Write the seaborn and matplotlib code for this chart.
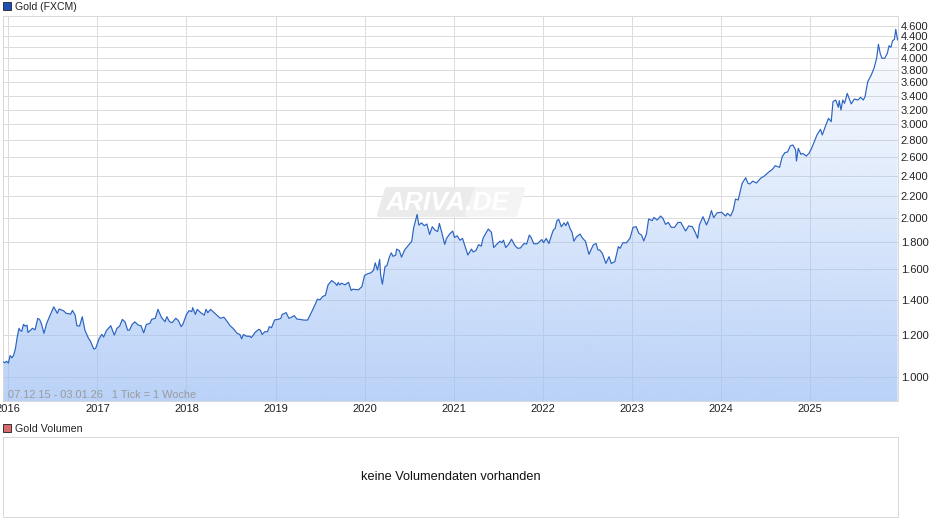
import numpy as np
import pandas as pd
import matplotlib
matplotlib.use("Agg")
import matplotlib.pyplot as plt
from matplotlib.patches import Polygon, Rectangle
import seaborn as sns

sns.set_theme(style="white")
plt.rcParams['font.family'] = ['Liberation Sans', 'DejaVu Sans']

# Weekly gold price, one pair of lists per stretch of the picture
years_2016 = [2015.94, 2015.96, 2015.98, 2016.00, 2016.02, 2016.04, 2016.06, 2016.08, 2016.10, 2016.12,
              2016.13, 2016.15, 2016.17, 2016.19, 2016.21, 2016.22, 2016.25, 2016.27, 2016.30, 2016.33,
              2016.35, 2016.37, 2016.40, 2016.43, 2016.47, 2016.51, 2016.55, 2016.57, 2016.62, 2016.65,
              2016.70, 2016.72, 2016.75, 2016.77, 2016.80, 2016.83, 2016.86, 2016.90, 2016.92, 2016.96,
              2016.98, 2017.02, 2017.05, 2017.07, 2017.10, 2017.15, 2017.19, 2017.22, 2017.25, 2017.28,
              2017.31, 2017.34, 2017.36, 2017.39, 2017.42, 2017.46, 2017.49, 2017.52, 2017.55]
price_2016 = [1069, 1064, 1071, 1062, 1098, 1087, 1100, 1133, 1191, 1236,
              1226, 1220, 1257, 1248, 1253, 1214, 1226, 1236, 1228, 1290,
              1285, 1263, 1209, 1263, 1309, 1357, 1319, 1344, 1334, 1319,
              1315, 1336, 1309, 1250, 1248, 1300, 1226, 1183, 1170, 1129,
              1133, 1183, 1204, 1190, 1223, 1250, 1200, 1236, 1248, 1285,
              1271, 1226, 1226, 1257, 1271, 1253, 1250, 1212, 1257]

years_2018 = [2017.59, 2017.61, 2017.65, 2017.68, 2017.72, 2017.76, 2017.78, 2017.81, 2017.84, 2017.88,
              2017.91, 2017.94, 2017.96, 2018.00, 2018.03, 2018.06, 2018.07, 2018.10, 2018.12, 2018.16,
              2018.20, 2018.22, 2018.24, 2018.27, 2018.32, 2018.36, 2018.38, 2018.42, 2018.45, 2018.49,
              2018.525, 2018.57, 2018.60, 2018.62, 2018.64, 2018.675, 2018.71, 2018.73, 2018.77, 2018.81,
              2018.83, 2018.85, 2018.88, 2018.91, 2018.93, 2018.955, 2018.99, 2019.03, 2019.06, 2019.075,
              2019.12, 2019.15, 2019.18, 2019.21, 2019.24, 2019.27, 2019.32, 2019.36, 2019.40]
price_2018 = [1263, 1285, 1291, 1342, 1295, 1272, 1300, 1272, 1267, 1291,
              1278, 1245, 1258, 1313, 1335, 1329, 1352, 1313, 1342, 1323,
              1309, 1342, 1323, 1342, 1319, 1300, 1291, 1297, 1278, 1250,
              1235, 1209, 1203, 1181, 1203, 1194, 1194, 1187, 1214, 1230,
              1226, 1203, 1218, 1218, 1245, 1239, 1282, 1285, 1291, 1313,
              1323, 1291, 1297, 1306, 1287, 1285, 1281, 1281, 1321]

years_2020 = [2019.45, 2019.47, 2019.50, 2019.53, 2019.56, 2019.59, 2019.63, 2019.67, 2019.69, 2019.704,
              2019.72, 2019.74, 2019.78, 2019.82, 2019.85, 2019.87, 2019.93, 2019.97, 2020.00, 2020.04,
              2020.07, 2020.10, 2020.12, 2020.145, 2020.17, 2020.18, 2020.20, 2020.23, 2020.25, 2020.28,
              2020.30, 2020.32, 2020.35, 2020.36, 2020.39, 2020.415, 2020.45, 2020.53, 2020.55, 2020.59,
              2020.61, 2020.64, 2020.67, 2020.70, 2020.73, 2020.76, 2020.79, 2020.82, 2020.84, 2020.87,
              2020.90, 2020.92, 2020.96]
price_2020 = [1377, 1403, 1399, 1420, 1426, 1493, 1521, 1504, 1489, 1508,
              1493, 1504, 1493, 1510, 1457, 1465, 1461, 1481, 1556, 1568,
              1573, 1590, 1643, 1592, 1668, 1561, 1497, 1617, 1622, 1688,
              1716, 1690, 1700, 1744, 1733, 1684, 1738, 1805, 1908, 2028,
              1936, 1955, 1931, 1945, 1859, 1922, 1895, 1882, 1950, 1867,
              1780, 1827, 1867]

years_2021 = [2020.99, 2021.01, 2021.04, 2021.07, 2021.10, 2021.13, 2021.16, 2021.20, 2021.22, 2021.25,
              2021.28, 2021.31, 2021.33, 2021.36, 2021.39, 2021.425, 2021.45, 2021.48, 2021.52, 2021.54,
              2021.56, 2021.585, 2021.62, 2021.65, 2021.69, 2021.72, 2021.75, 2021.79, 2021.82, 2021.85,
              2021.87, 2021.90, 2021.94, 2021.99, 2022.01, 2022.04, 2022.07, 2022.10, 2022.12, 2022.14,
              2022.16, 2022.18, 2022.21, 2022.24, 2022.26, 2022.28, 2022.31, 2022.33, 2022.35, 2022.38,
              2022.42, 2022.45, 2022.48, 2022.52, 2022.55, 2022.57, 2022.60, 2022.62, 2022.64]
price_2021 = [1886, 1835, 1848, 1813, 1827, 1761, 1700, 1744, 1723, 1733,
              1778, 1767, 1827, 1867, 1903, 1876, 1756, 1778, 1805, 1794,
              1813, 1756, 1783, 1821, 1770, 1750, 1753, 1787, 1783, 1854,
              1835, 1785, 1785, 1818, 1794, 1827, 1787, 1854, 1895, 1908,
              1973, 1985, 1922, 1955, 1931, 1964, 1903, 1876, 1805, 1840,
              1862, 1827, 1805, 1705, 1750, 1778, 1787, 1738, 1738]

years_2023 = [2022.67, 2022.71, 2022.745, 2022.77, 2022.81, 2022.85, 2022.87, 2022.90, 2022.94, 2022.98,
              2023.015, 2023.05, 2023.08, 2023.11, 2023.135, 2023.165, 2023.19, 2023.23, 2023.25, 2023.285,
              2023.325, 2023.35, 2023.38, 2023.41, 2023.445, 2023.48, 2023.52, 2023.55, 2023.605, 2023.64,
              2023.68, 2023.71, 2023.74, 2023.76, 2023.80, 2023.84, 2023.87, 2023.895, 2023.92, 2023.96,
              2024.01, 2024.055, 2024.075, 2024.11, 2024.14, 2024.165, 2024.195, 2024.24, 2024.28, 2024.305,
              2024.325, 2024.36, 2024.40, 2024.45, 2024.49, 2024.54, 2024.57]
price_2023 = [1712, 1639, 1688, 1639, 1651, 1763, 1750, 1793, 1793, 1828,
              1917, 1923, 1868, 1854, 1807, 1863, 1988, 1974, 2002, 1979,
              2014, 1994, 1942, 1959, 1917, 1917, 1959, 1959, 1887, 1929,
              1923, 1881, 1828, 1937, 2008, 1937, 1994, 2062, 2000, 2043,
              2047, 2014, 2038, 2014, 2067, 2168, 2159, 2322, 2379, 2322,
              2315, 2344, 2325, 2375, 2397, 2440, 2460]

years_2025 = [2024.59, 2024.61, 2024.66, 2024.69, 2024.72, 2024.75, 2024.78, 2024.81, 2024.84, 2024.85,
              2024.87, 2024.90, 2024.92, 2024.96, 2024.99, 2025.02, 2025.05, 2025.08, 2025.12, 2025.14,
              2025.18, 2025.21, 2025.24, 2025.26, 2025.29, 2025.32, 2025.33, 2025.35, 2025.37, 2025.39,
              2025.42, 2025.465, 2025.50, 2025.54, 2025.57, 2025.60, 2025.62, 2025.65, 2025.69, 2025.72,
              2025.75, 2025.77, 2025.79, 2025.81, 2025.84, 2025.87, 2025.89, 2025.91, 2025.93, 2025.95,
              2025.965, 2025.985]
price_2025 = [2478, 2507, 2489, 2607, 2653, 2661, 2731, 2743, 2684, 2558,
              2703, 2633, 2645, 2614, 2645, 2703, 2783, 2865, 2936, 2865,
              2992, 3080, 3035, 3311, 3335, 3231, 3326, 3194, 3335, 3287,
              3433, 3279, 3350, 3335, 3375, 3335, 3384, 3612, 3718, 3827,
              3998, 4249, 4086, 3998, 3998, 4086, 4224, 4194, 4317, 4342,
              4535, 4329]

y_ticks = [1000, 1200, 1400, 1600, 1800, 2000, 2200, 2400, 2600, 2800, 3000,
           3200, 3400, 3600, 3800, 4000, 4200, 4400, 4600]
y_labels = ["1.000", "1.200", "1.400", "1.600", "1.800", "2.000", "2.200", "2.400", "2.600", "2.800", "3.000",
            "3.200", "3.400", "3.600", "3.800", "4.000", "4.200", "4.400", "4.600"]
x_ticks = [2016, 2017, 2018, 2019, 2020, 2021, 2022, 2023, 2024, 2025]
x_labels = ["2016", "2017", "2018", "2019", "2020", "2021", "2022", "2023", "2024", "2025"]

df = pd.DataFrame({
    "year": years_2016 + years_2018 + years_2020 + years_2021 + years_2023 + years_2025,
    "price": price_2016 + price_2018 + price_2020 + price_2021 + price_2023 + price_2025,
})

W, H = 940, 526
GRID = "#dcdcdc"
BORDER = "#d9d9d9"


def box(x0, y0, x1, y1):
    # pixel box (y from the top) to figure fractions
    return [x0 / W, 1 - y1 / H, (x1 - x0) / W, (y1 - y0) / H]


def px(x, y):
    return (x / W, 1 - y / H)


fig = plt.figure(figsize=(W / 100, H / 100), dpi=100)
ax = fig.add_axes(box(3, 16, 898, 401))
ax_vol = fig.add_axes(box(3, 437, 898, 517))

ax.set_yscale("log")
ax.set_axisbelow(True)
ax.grid(True, color=GRID, linewidth=0.72, zorder=0.5)

# gradient area under the line, see-through so the grid still shows
alpha = np.linspace(0, 0.7, 256).reshape(-1, 1)
grad = np.ones((256, 1, 4))
grad[..., 0] = 156 / 255
grad[..., 1] = 191 / 255
grad[..., 2] = 245 / 255
grad[..., 3] = alpha
area = ax.fill_between(df["year"], df["price"], 800, facecolor="none", edgecolor="none")
im = ax.imshow(grad, extent=[0, 1, 0, 1], origin="upper", transform=ax.transAxes, aspect="auto", zorder=1.5)
im.set_clip_path(area.get_paths()[0], transform=ax.transData)

sns.lineplot(data=df, x="year", y="price", ax=ax, color="#2b63c1", linewidth=0.85, estimator=None, zorder=3,
             legend=False)

ax.set_xlim(2015.94, 2025.99)
ax.set_ylim(901, 4806)
ax.minorticks_off()
ax.set_xticks(x_ticks)
ax.set_xticklabels(x_labels)
ax.set_yticks(y_ticks)
ax.set_yticklabels(y_labels)
ax.yaxis.tick_right()
ax.tick_params(axis="both", length=0, labelsize=8.0, labelcolor="#222222")
ax.tick_params(axis="y", pad=2)
ax.tick_params(axis="x", pad=2)
ax.set_xlabel("")
ax.set_ylabel("")
for s in ax.spines.values():
    s.set_color(BORDER)
    s.set_linewidth(0.72)

# watermark
ax.add_patch(Polygon([px(387, 189), px(475, 189), px(466, 215), px(379, 215)], closed=True, transform=fig.transFigure,
                     facecolor="#ebebeb", edgecolor="#ebebeb", linewidth=3, joinstyle="round", zorder=1))
ax.add_patch(Polygon([px(476, 189), px(523, 189), px(515, 215), px(467, 215)], closed=True, transform=fig.transFigure,
                     facecolor="#f4f4f4", edgecolor="#f4f4f4", linewidth=3, joinstyle="round", zorder=1))
fig.text(448 / W, 1 - 203 / H, "ARIVA.DE", color="white", fontsize=19, fontweight="bold", fontstyle="italic",
         ha="center", va="center", zorder=2)

fig.text(8 / W, 1 - 395 / H, "07.12.15 - 03.01.26   1 Tick = 1 Woche", color="#9a9a9a", fontsize=7.9, va="center",
         zorder=5)

# titles with the small squares
fig.add_artist(Rectangle(px(3, 10), 8 / W, 8 / H, transform=fig.transFigure, facecolor="#1c50b4", edgecolor="#333333",
                         linewidth=0.7))
fig.text(15 / W, 1 - 6.5 / H, "Gold (FXCM)", color="#222222", fontsize=7.6, va="center")
fig.add_artist(Rectangle(px(3, 432), 8 / W, 8 / H, transform=fig.transFigure, facecolor="#dc6a6a", edgecolor="#333333",
                         linewidth=0.7))
fig.text(15 / W, 1 - 428.5 / H, "Gold Volumen", color="#222222", fontsize=7.7, va="center")

# empty volume panel
ax_vol.set_xticks([])
ax_vol.set_yticks([])
for s in ax_vol.spines.values():
    s.set_color(BORDER)
    s.set_linewidth(0.72)
ax_vol.text(0.5, 0.5, "keine Volumendaten vorhanden", transform=ax_vol.transAxes, ha="center", va="center",
            fontsize=9.15, color="#111111")

fig.savefig("out.png", dpi=100)
